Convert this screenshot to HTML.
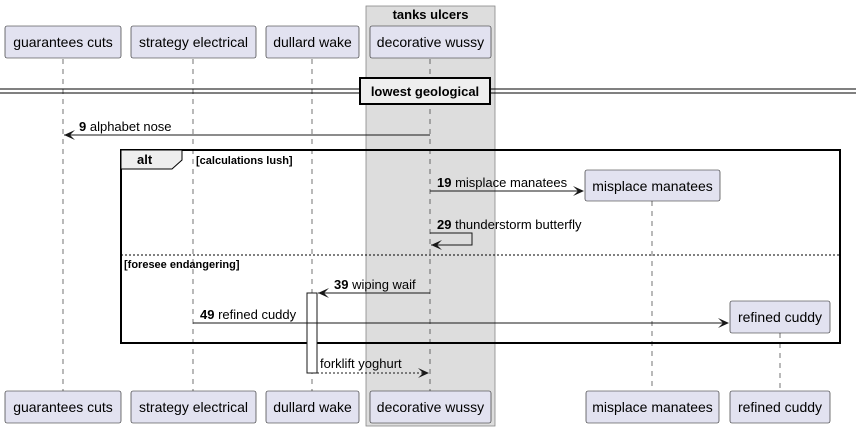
<!DOCTYPE html>
<html><head><meta charset="utf-8"><style>
html,body{margin:0;padding:0;background:#fff;}
svg{display:block;font-family:"Liberation Sans",sans-serif;}
.p{fill:#e2e2f0;stroke:#181818;stroke-width:0.6;}
.pt{font-size:14px;fill:#000;}
.ll{stroke:#181818;stroke-width:0.6;stroke-dasharray:5,5;}
.m{stroke:#181818;stroke-width:1;fill:none;}
.ml{font-size:13px;fill:#000;}
.b{font-weight:bold;}
</style></head><body>
<svg width="856" height="431" viewBox="0 0 856 431">
<rect x="366" y="6" width="129" height="420" fill="#dddddd" stroke="#888" stroke-width="0.8"/>
<text x="430.5" y="19" class="b" font-size="13" text-anchor="middle">tanks ulcers</text>
<g class="ll">
<line x1="63" y1="59" x2="63" y2="391"/>
<line x1="193" y1="59" x2="193" y2="391"/>
<line x1="312" y1="59" x2="312" y2="391"/>
<line x1="430" y1="59" x2="430" y2="391"/>
<line x1="652" y1="201" x2="652" y2="391"/>
<line x1="780" y1="333" x2="780" y2="391"/>
</g>
<rect class="p" x="5" y="26" width="116" height="32" rx="2"/><text class="pt" x="63" y="47" text-anchor="middle">guarantees cuts</text>
<rect class="p" x="131" y="26" width="125" height="32" rx="2"/><text class="pt" x="193.5" y="47" text-anchor="middle">strategy electrical</text>
<rect class="p" x="266" y="26" width="93" height="32" rx="2"/><text class="pt" x="312.5" y="47" text-anchor="middle">dullard wake</text>
<rect class="p" x="370" y="26" width="121" height="32" rx="2"/><text class="pt" x="430.5" y="47" text-anchor="middle">decorative wussy</text>
<rect class="p" x="5" y="391" width="116" height="32" rx="2"/><text class="pt" x="63" y="412" text-anchor="middle">guarantees cuts</text>
<rect class="p" x="131" y="391" width="125" height="32" rx="2"/><text class="pt" x="193.5" y="412" text-anchor="middle">strategy electrical</text>
<rect class="p" x="266" y="391" width="93" height="32" rx="2"/><text class="pt" x="312.5" y="412" text-anchor="middle">dullard wake</text>
<rect class="p" x="370" y="391" width="121" height="32" rx="2"/><text class="pt" x="430.5" y="412" text-anchor="middle">decorative wussy</text>
<rect class="p" x="586" y="391" width="133" height="32" rx="2"/><text class="pt" x="652.5" y="412" text-anchor="middle">misplace manatees</text>
<rect class="p" x="730" y="391" width="100" height="32" rx="2"/><text class="pt" x="780" y="412" text-anchor="middle">refined cuddy</text>
<line x1="0" y1="89" x2="856" y2="89" stroke="#000" stroke-width="1"/>
<line x1="0" y1="93" x2="856" y2="93" stroke="#000" stroke-width="1"/>
<rect x="360" y="78" width="130" height="26" fill="#eeeeee" stroke="#000" stroke-width="2"/>
<text x="425" y="96" class="b" font-size="13" text-anchor="middle">lowest geological</text>
<line class="m" x1="430" y1="135" x2="64" y2="135"/>
<path d="M64,135 L75,130 L70,135 L75,140 Z" fill="#181818"/>
<text class="ml" x="79" y="131"><tspan class="b">9</tspan> alphabet nose</text>
<rect x="121" y="150" width="719" height="193" fill="none" stroke="#000" stroke-width="2"/>
<path d="M121,150 L182,150 L182,160 L172,169 L121,169 Z" fill="#eeeeee" stroke="#000" stroke-width="1"/>
<text x="137" y="164" class="b" font-size="13">alt</text>
<text x="196" y="164" class="b" font-size="11">[calculations lush]</text>
<line class="m" x1="430" y1="191" x2="583" y2="191"/>
<path d="M584,191 L573,186 L578,191 L573,196 Z" fill="#181818"/>
<text class="ml" x="437" y="187"><tspan class="b">19</tspan> misplace manatees</text>
<rect class="p" x="585" y="170" width="135" height="31" rx="2"/><text class="pt" x="652.5" y="191" text-anchor="middle">misplace manatees</text>
<polyline class="m" points="430,233 472,233 472,245 431,245"/>
<path d="M431,245 L442,240 L437,245 L442,250 Z" fill="#181818"/>
<text class="ml" x="437" y="229"><tspan class="b">29</tspan> thunderstorm butterfly</text>
<line x1="121" y1="255" x2="840" y2="255" stroke="#000" stroke-width="1" stroke-dasharray="2,2"/>
<text x="124" y="268" class="b" font-size="11">[foresee endangering]</text>
<rect x="307" y="293" width="10" height="80" fill="#fff" stroke="#181818" stroke-width="1"/>
<line class="m" x1="430" y1="293" x2="318" y2="293"/>
<path d="M318,293 L329,288 L324,293 L329,298 Z" fill="#181818"/>
<text class="ml" x="334" y="289"><tspan class="b">39</tspan> wiping waif</text>
<line class="m" x1="193" y1="323" x2="728" y2="323"/>
<path d="M729,323 L718,318 L723,323 L718,328 Z" fill="#181818"/>
<text class="ml" x="200" y="319"><tspan class="b">49</tspan> refined cuddy</text>
<rect class="p" x="730" y="301" width="100" height="32" rx="2"/><text class="pt" x="780" y="322" text-anchor="middle">refined cuddy</text>
<line class="m" x1="317" y1="373" x2="428" y2="373" stroke-dasharray="2,2"/>
<path d="M429,373 L418,368 L423,373 L418,378 Z" fill="#181818"/>
<text class="ml" x="320" y="368">forklift yoghurt</text>
</svg>
</body></html>
